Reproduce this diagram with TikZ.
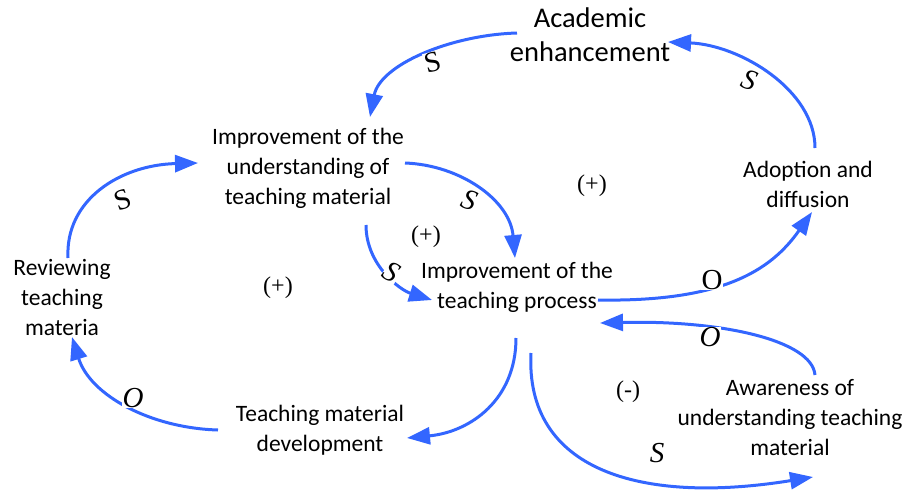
\documentclass[tikz,border=0pt]{standalone}
\usepackage{fontspec}
\setmainfont{Carlito}
\newfontfamily\signfont{Liberation Serif}
\usetikzlibrary{arrows.meta}
\definecolor{linkblue}{RGB}{51,102,255}

\begin{document}
\begin{tikzpicture}[x=1pt, y=-1pt,
    var/.style={align=center, inner sep=0pt, font=\fontsize{23.5}{30}\selectfont},
    link/.style={linkblue, line width=3pt, -{Triangle[length=23pt,width=17pt]}},
    sign/.style={font=\signfont\fontsize{29}{29}\selectfont, inner sep=0.5pt, fill=white},
    loopsign/.style={font=\signfont\fontsize{24}{24}\selectfont}]
    \useasboundingbox (0,0) rectangle (906,493);

    % Variables
    \node[var, font=\fontsize{28.5}{34}\selectfont] (acad) at (590,35) {Academic\\enhancement};
    \node[var] (under) at (308,168) {Improvement of the\\understanding of\\teaching material};
    \node[var] (adop) at (808,184) {Adoption and\\diffusion};
    \node[var] (rev) at (62,297) {Reviewing\\teaching\\materia};
    \node[var] (proc) at (517,287) {Improvement of the\\teaching process};
    \node[var] (dev) at (320,430) {Teaching material\\development};
    \node[var] (aware) at (790,418) {Awareness of\\understanding teaching\\material};

    % Links
    \draw[link] ([shift={(-73,-2)}]acad.center) .. controls +(-67,2) and +(10,-52) .. ([shift={(62,-51)}]under.center);
    \draw[link] ([shift={(7,-36)}]adop.center) .. controls +(0,-58) and +(72,3) .. ([shift={(78,7)}]acad.center);
    \draw[link] ([shift={(97,-5)}]under.center) .. controls +(55,2) and +(-5,-58) .. ([shift={(-2,-29)}]proc.center);
    \draw[link] ([shift={(58,57)}]under.center) .. controls +(0,40) and +(-32,-10) .. ([shift={(-85,13)}]proc.center);
    \draw[link] ([shift={(6,-39)}]rev.center) .. controls +(-3,-58) and +(-78,2) .. ([shift={(-110,-5)}]under.center);
    \draw[link] ([shift={(-102,0)}]dev.center) .. controls +(-68,-2) and +(18,58) .. ([shift={(10,40)}]rev.center);
    \draw[link] ([shift={(-1,51)}]proc.center) .. controls +(0,62) and +(63,-6) .. ([shift={(87,8)}]dev.center);
    \draw[link] ([shift={(81,13)}]proc.center) .. controls +(122,2) and +(-42,60) .. ([shift={(4,28)}]adop.center);
    \draw[link] ([shift={(25,-43)}]aware.center) .. controls +(-3,-35) and +(120,-3) .. ([shift={(83,36)}]proc.center);
    \draw[link] ([shift={(14,66)}]proc.center) .. controls +(-6,117) and +(-173,28) .. ([shift={(23,59)}]aware.center);

    % Link signs
    \node[sign, rotate=15] (s1) at (433,62) {S};
    \node[sign, rotate=-20] (s2) at (750,80) {\itshape S};
    \node[sign, rotate=-20] (s3) at (470,200) {\itshape S};
    \node[sign, rotate=-30] (s4) at (392,272) {\itshape S};
    \node[sign, rotate=20] (s5) at (123,200) {S};
    \node[sign] (o6) at (133,398) {\itshape O};
    \node[sign] (o8) at (712,280) {O};
    \node[sign] (o9) at (710,337) {\itshape O};
    \node[sign] (s10) at (657,453) {\itshape S};

    % Loop polarities
    \node[loopsign] (loopa) at (592,186) {(+)};
    \node[loopsign] (loopb) at (426,237) {(+)};
    \node[loopsign] (loopc) at (278,288) {(+)};
    \node[loopsign] (loopd) at (628,392) {(-)};
\end{tikzpicture}
\end{document}
